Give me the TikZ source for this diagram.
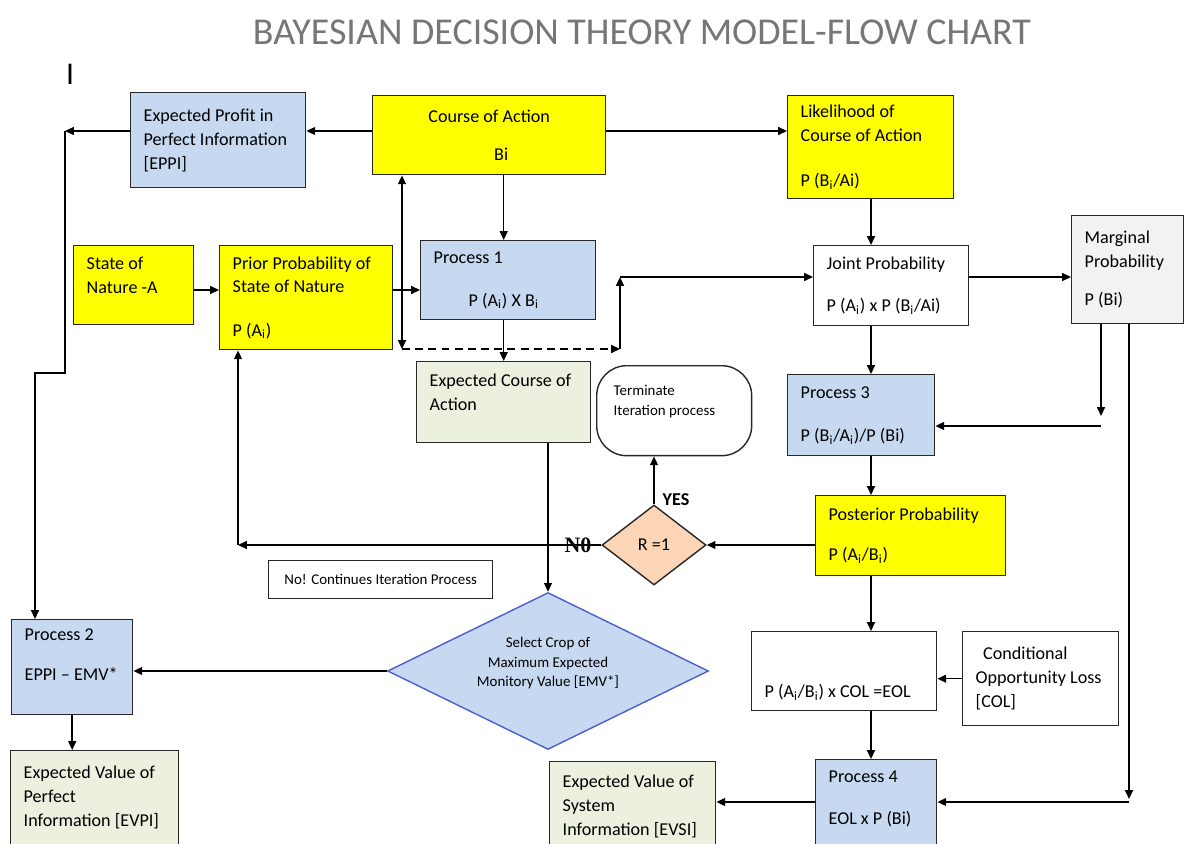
\documentclass[tikz,border=0pt]{standalone}
\usepackage{fontspec}
\setmainfont{Carlito}
\newfontfamily\serifbold{Liberation Serif}
\usetikzlibrary{arrows.meta,shapes.geometric}

\definecolor{yellowF}{RGB}{255,255,0}
\definecolor{blueF}{RGB}{198,217,241}
\definecolor{greenF}{RGB}{235,241,222}
\definecolor{grayF}{RGB}{242,242,242}
\definecolor{peachF}{RGB}{251,213,181}
\definecolor{selline}{RGB}{76,96,204}
\definecolor{titlegray}{RGB}{118,118,118}
\definecolor{boxline}{RGB}{40,40,40}

\newcommand{\bodysize}{\fontsize{10.3}{13.6}\selectfont}
\newcommand{\smallsize}{\fontsize{8.5}{11.5}\selectfont}

\begin{document}
\begin{tikzpicture}[x=0.02cm, y=-0.02cm,
	tsp/.style={execute at begin node={\spaceskip=0.23em\xspaceskip=0.3em\relax}},
	box/.style={draw=boxline, line width=0.8pt, anchor=north west, align=left, inner xsep=0.26cm, inner ysep=0pt, font=\bodysize, tsp},
	boxsz/.code 2 args={\pgfmathsetlengthmacro\bxw{(#1-26)*0.02cm}\pgfmathsetlengthmacro\bxh{#2*0.02cm}\edef\bxset{\noexpand\pgfkeysalso{text width=\bxw, minimum height=\bxh}}\bxset},
	arr/.style={line width=0.8pt, -{Triangle[length=5pt, width=4.5pt]}},
	dbl/.style={line width=0.8pt, {Triangle[length=5pt, width=4.5pt]}-{Triangle[length=5pt, width=4.5pt]}},
	]
		\useasboundingbox (0,0) rectangle (1185,844);
		\clip (0,0) rectangle (1185,844);
		\node[font=\fontsize{21.6}{24}\selectfont, text=titlegray] (title) at (642,32) {BAYESIAN DECISION THEORY MODEL-FLOW CHART};
		\node[font=\fontsize{18}{20}\selectfont] (mark) at (70,74) {I};

		\node[box, fill=blueF, boxsz={175}{95}] (eppi) at (130,92) {Expected Profit in\\\mbox{Perfect Information}\\{[EPPI]}};
		\node[box, fill=yellowF, align=center, boxsz={233}{79}] (course) at (372,95) {Course of Action\\[8pt]\hspace*{0.48cm}Bi};
		\node[box, fill=yellowF, boxsz={166}{103}] (lik) at (787,95) {Likelihood of\\\mbox{Course of Action}\\[12pt]P (B\textsubscript{i}/Ai)};
		\node[box, fill=yellowF, boxsz={120}{79}] (state) at (73,245) {State of\\Nature -A\\[-2pt]\mbox{}};
		\node[box, fill=yellowF, boxsz={173}{104}] (prior) at (219,245) {\mbox{Prior Probability of}\\State of Nature\\[11pt]P (A\textsubscript{i})};
		\node[box, fill=blueF, boxsz={175}{79}] (proc1) at (420,240) {Process 1\\[11pt]\hspace*{0.7cm}P (A\textsubscript{i}) X B\textsubscript{i}};
		\node[box, fill=white, boxsz={155}{80}] (joint) at (813,245) {Joint Probability\\[10pt]\mbox{P (A\textsubscript{i}) x P (B\textsubscript{i}/Ai)}};
		\node[box, fill=grayF, boxsz={112}{108}] (marg) at (1071,215) {Marginal\\Probability\\[8pt]P (Bi)};
		\node[box, fill=greenF, boxsz={174}{81}] (ecoa) at (416,361) {\mbox{Expected Course of}\\Action\\[-2pt]\mbox{}};
		\node[box, fill=white, font=\smallsize, rounded corners=0.6cm, inner xsep=0.34cm, text width=2.42cm, minimum height=1.8cm] (term) at (596,365) {Terminate\\Iteration process\\\mbox{}};
		\node[box, fill=blueF, boxsz={147}{81}] (proc3) at (787,374) {Process 3\\[11pt]\mbox{P (B\textsubscript{i}/A\textsubscript{i})/P (Bi)}};
		\node[box, fill=yellowF, boxsz={190}{80}] (post) at (815,495) {\mbox{Posterior Probability}\\[9pt]P (A\textsubscript{i}/B\textsubscript{i})};
		\node[box, fill=white, font=\smallsize, align=center, boxsz={224}{38}] (cont) at (268,560) {\mbox{No! Continues Iteration Process}};
		\node[box, fill=blueF, boxsz={121}{95}] (proc2) at (11,619) {Process 2\\[9pt]\mbox{EPPI – EMV*}\\[1pt]\mbox{}};
		\node[box, fill=greenF, boxsz={168}{104}] (evpi) at (10,750) {Expected Value of\\Perfect\\\mbox{Information [EVPI]}\\[-6pt]\mbox{}};
		\node[box, fill=white, boxsz={185}{79}] (eol) at (751,631) {\mbox{}\\[18pt]\mbox{P (A\textsubscript{i}/B\textsubscript{i}) x COL =EOL}};
		\node[box, fill=white, boxsz={156}{94}] (col) at (962,631) {\hspace*{0.15cm}Conditional\\\mbox{Opportunity Loss}\\{[COL]}};
		\node[box, fill=blueF, boxsz={121}{100}] (proc4) at (815,759) {Process 4\\[10pt]EOL x P (Bi)\\\mbox{}};
		\node[box, fill=greenF, boxsz={166}{100}] (evsi) at (549,761) {Expected Value of\\System\\\mbox{Information [EVSI]}\\[-6pt]\mbox{}};
		\node[diamond, draw=boxline, line width=0.8pt, fill=peachF, inner sep=0pt, aspect=1.3, minimum width=2.08cm, minimum height=1.6cm, font=\bodysize, tsp] (rdia) at (654,545) {R =1};
		\node[diamond, draw=selline, line width=0.8pt, fill=blueF, inner sep=0pt, aspect=2, minimum width=6.42cm, minimum height=3.14cm, align=center, font=\fontsize{8.5}{11.3}\selectfont, tsp] (sel) at (548,671) {Select Crop of\\Maximum Expected\\Monitory Value [EMV*]\\[-1pt]\mbox{}};

		\coordinate (lt) at (65,131);
		\coordinate (ls) at (35,373);
		\coordinate (ym) at (0,290);
		\coordinate (dl) at (402,349);
		\coordinate (dr) at (620,349);
		\coordinate (ju) at (620,277);
		\coordinate (vx) at (871,0);
		\coordinate (m1) at (1101,416);
		\coordinate (m2) at (1101,426);
		\coordinate (m3) at (1129,799);
		\coordinate (m4) at (1129,802);
		\coordinate (nl) at (238,545);

		\draw[arr] (course.west |- lt) -- (eppi.east |- lt);
		\draw[arr] (eppi.west |- lt) -- (lt);
		\draw[arr] (lt) |- (ls) -- (ls |- proc2.north);
		\draw[arr] (course.east |- lt) -- (lik.west |- lt);
		\draw[arr] (lik.south -| vx) -- (joint.north -| vx);
		\draw[arr] (course.south -| ecoa.north) -- (proc1.north -| ecoa.north);
		\draw[arr] (state.east |- ym) -- (prior.west |- ym);
		\draw[arr] (prior.east |- ym) -- (proc1.west |- ym);
		\draw[dbl] (course.south -| dl) -- (dl);
		\draw[arr, dash pattern=on 4.5pt off 3pt] (dl) -- (dr);
		\draw[arr] (dr) -- (ju);
		\draw[arr] (ju) -- (ju -| joint.west);
		\draw[arr] (proc1.south -| ecoa.north) -- (ecoa.north);
		\draw[arr] (ecoa.south -| sel.north) -- (sel.north);
		\draw[arr] (joint.east |- ju) -- (marg.west |- ju);
		\draw[arr] (joint.south -| vx) -- (proc3.north -| vx);
		\draw[arr] (marg.south -| m1) -- (m1);
		\draw[arr] (m2) -- (m2 -| proc3.east);
		\draw[arr] (marg.south -| m3) -- (m3);
		\draw[arr] (m4) -- (m4 -| proc4.east);
		\draw[arr] (proc3.south -| vx) -- (post.north -| vx);
		\draw[arr] (post.west |- rdia.east) -- (rdia.east);
		\draw[arr] (rdia.north) -- (rdia.north |- term.south);
		\draw[arr] (rdia.west) -- (nl);
		\draw[arr] (nl) -- (nl |- prior.south);
		\draw[arr] (post.south -| vx) -- (eol.north -| vx);
		\draw[arr] (col.west) -- (col.west -| eol.east);
		\draw[arr] (eol.south -| vx) -- (proc4.north -| vx);
		\draw[arr] (proc4.west |- m4) -- (evsi.east |- m4);
		\draw[arr] (sel.west) -- (sel.west -| proc2.east);
		\draw[arr] (proc2.south) -- (evpi.north -| proc2.south);
		\node[font=\bfseries\bodysize] (yes) at (676,500) {YES};
		\node[font=\serifbold\bfseries\fontsize{12.5}{14}\selectfont] (no) at (578,545) {N0};
\end{tikzpicture}
\end{document}
